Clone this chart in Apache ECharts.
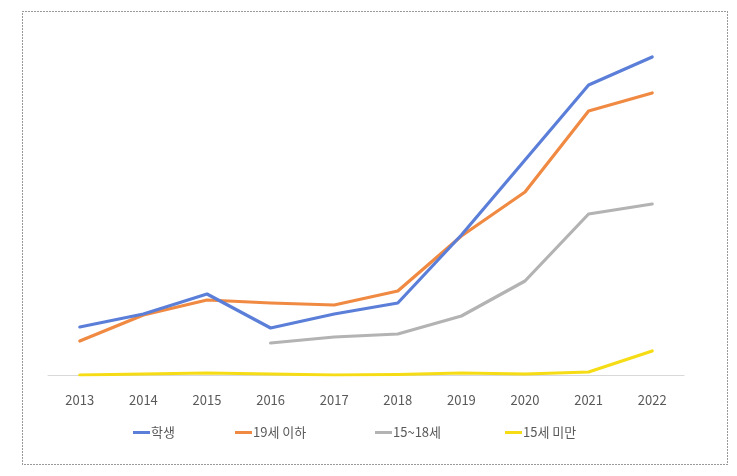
<!DOCTYPE html>
<html>
<head>
<meta charset="utf-8">
<script src="https://cdn.jsdelivr.net/npm/echarts@6/dist/echarts.min.js"></script>
<style>
html,body{margin:0;padding:0;background:#fff;}
#chart{width:737px;height:476px;}
</style>
</head>
<body>
<div id="chart"></div>
<script>
const categories = ['2013','2014','2015','2016','2017','2018','2019','2020','2021','2022'];
const students = [48, 61, 81, 47, 61, 72, 140, 215, 290, 318];
const under19 = [34, 60, 75, 72, 70, 84, 139, 183, 264, 282];
const age15to18 = [null, null, null, 32, 38, 41, 59, 94, 161, 171];
const under15 = [0, 1, 2, 1, 0, 0.5, 2, 1, 3, 24];
const seriesNames = ['학생', '19세 이하', '15~18세', '15세 미만'];
const colors = ['#5b7fd8', '#f08a43', '#b3b3b3', '#f5dc14'];
const dataList = [students, under19, age15to18, under15];
const legendLeft = [133, 235, 375, 505];

const chart = echarts.init(document.getElementById('chart'), null, {renderer: 'canvas'});
const font = '"Noto Sans CJK KR", "Noto Sans", sans-serif';
chart.setOption({
  animation: false,
  backgroundColor: '#fff',
  textStyle: {fontFamily: font},
  graphic: [{
    type: 'rect',
    shape: {x: 22.5, y: 11.5, width: 705, height: 453},
    style: {fill: 'none', stroke: '#333', lineWidth: 1, lineDash: [1, 2]},
    silent: true
  }],
  grid: {left: 48, right: 53, top: 25, bottom: 101},
  xAxis: {
    type: 'category',
    data: categories,
    boundaryGap: true,
    axisLine: {lineStyle: {color: '#d9d9d9', width: 1}},
    axisTick: {show: false},
    axisLabel: {color: '#595959', fontSize: 13, margin: 19, fontFamily: font}
  },
  yAxis: {
    type: 'value', min: 0, max: 350,
    show: false,
    splitLine: {show: false}
  },
  legend: legendLeft.map((l, i) => ({
    data: [seriesNames[i]],
    left: l, top: 426, padding: 0,
    icon: 'rect', itemWidth: 17, itemHeight: 3, itemGap: 2,
    textStyle: {color: '#595959', fontSize: 13, fontFamily: font, padding: [0, 0, 0, -4]}
  })),
  series: seriesNames.map((n, i) => ({
    name: n,
    type: 'line',
    data: dataList[i],
    showSymbol: false,
    symbol: 'none',
    connectNulls: false,
    lineStyle: {color: colors[i], width: 3.2, cap: 'round', join: 'round'},
    itemStyle: {color: colors[i]},
    z: 10 - i
  }))
});
</script>
</body>
</html>
